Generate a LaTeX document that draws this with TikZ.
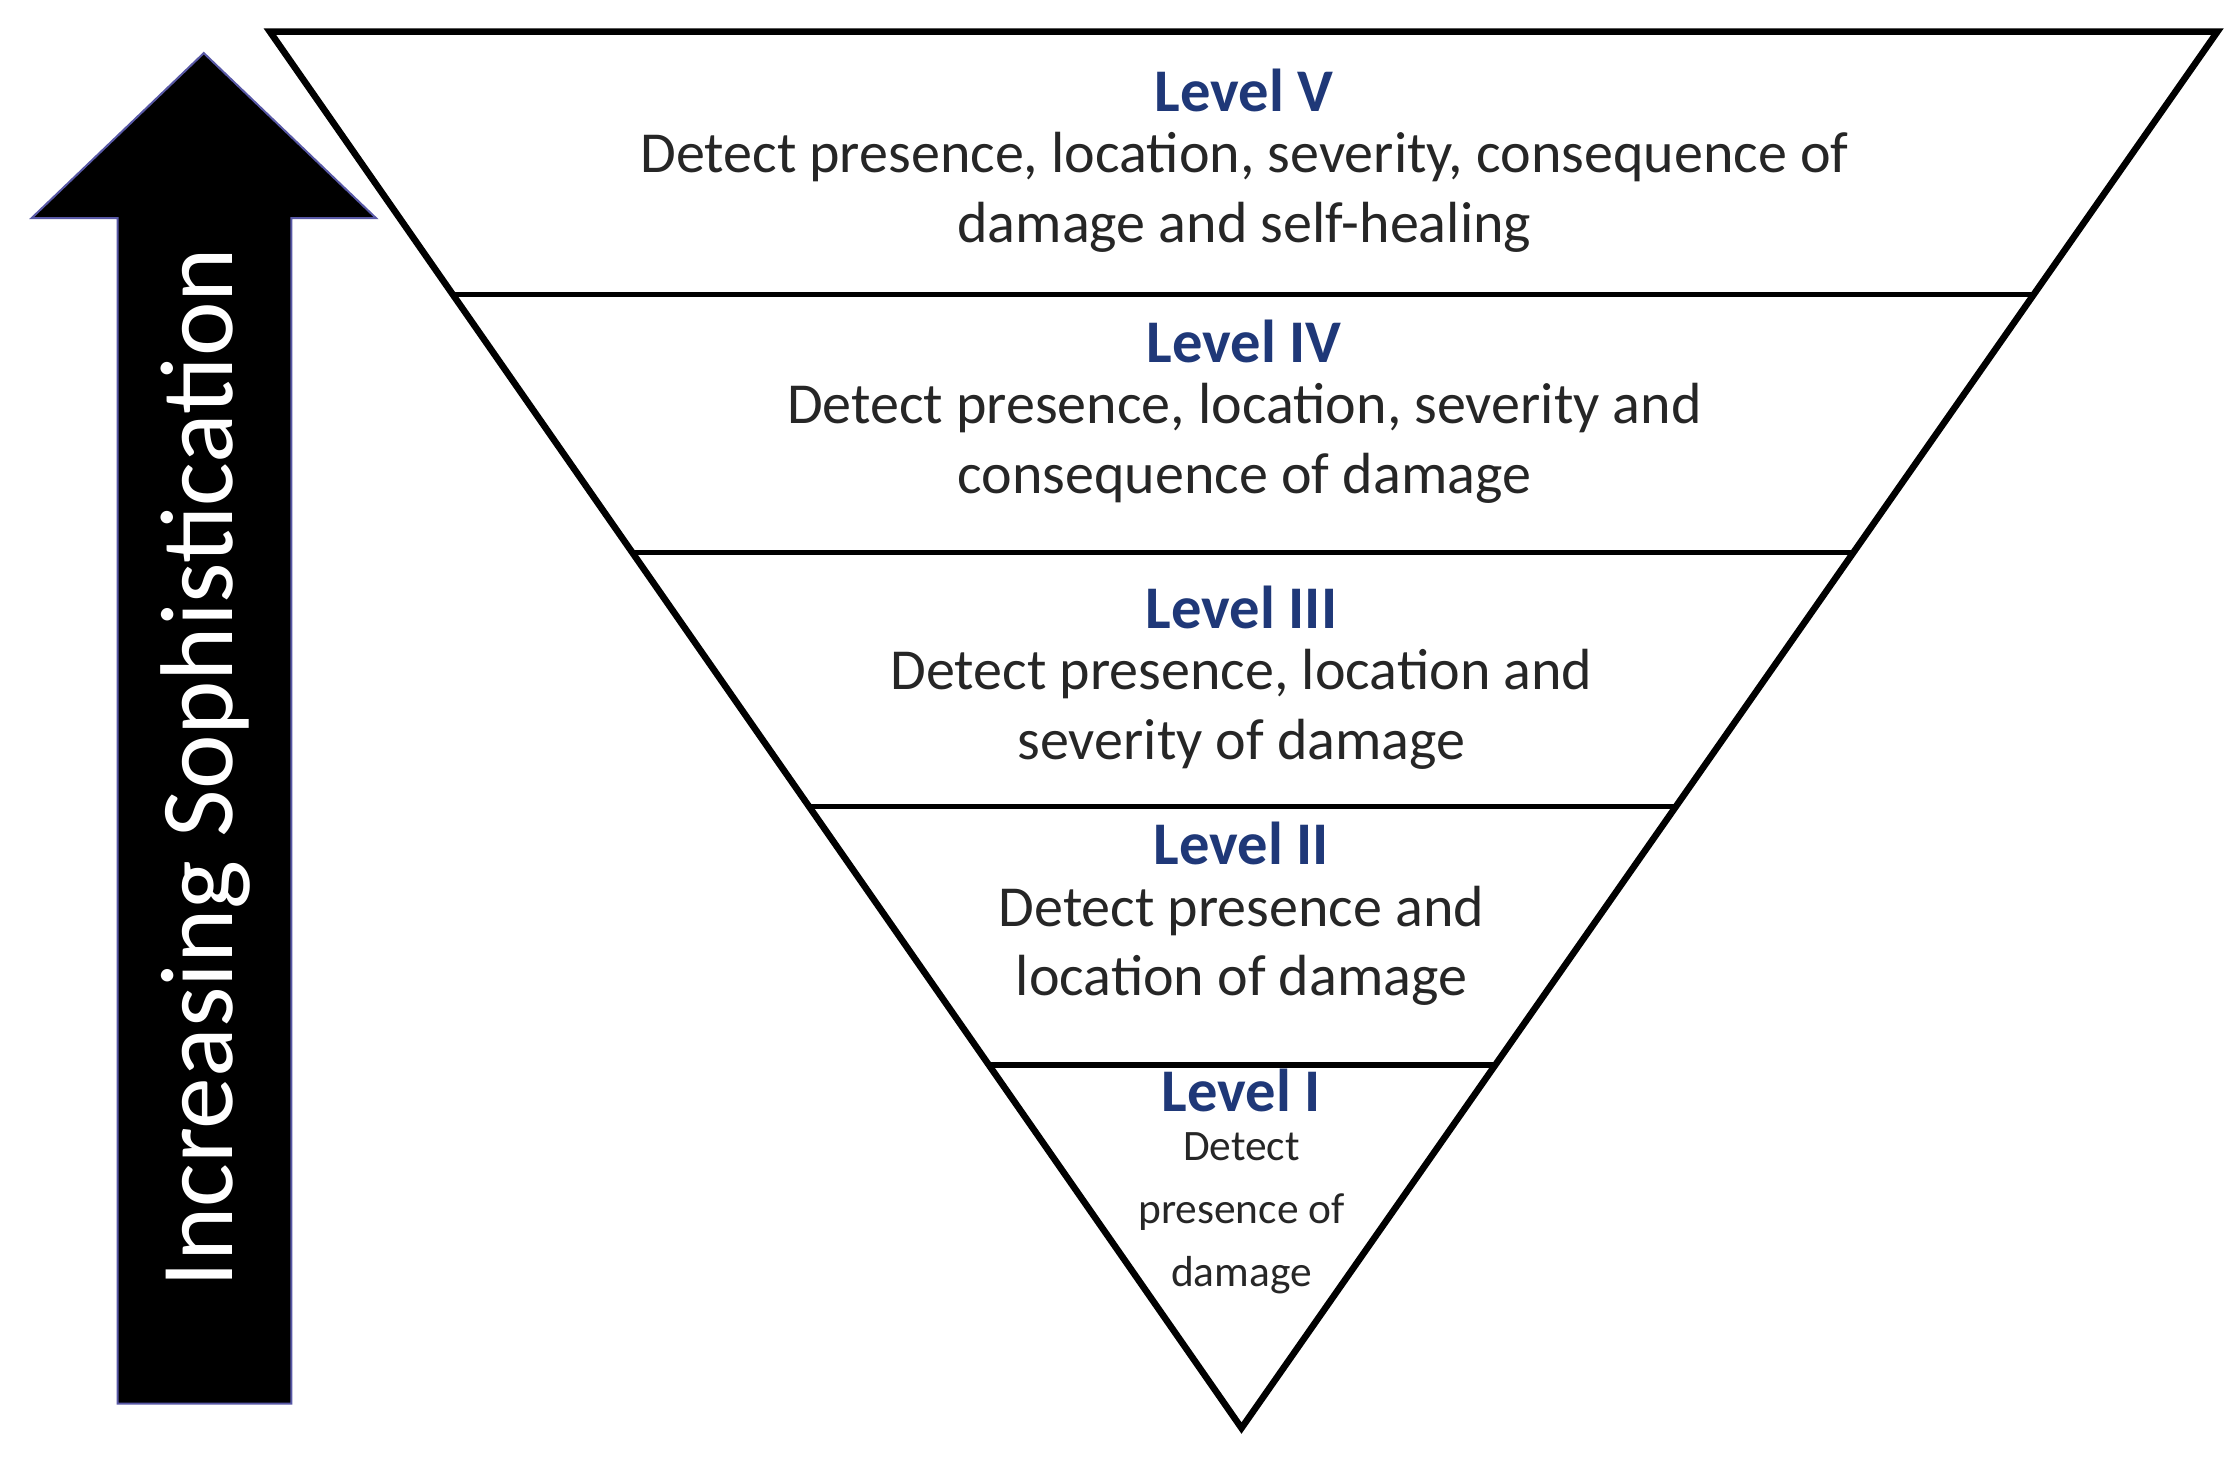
\documentclass[tikz,border=0pt]{standalone}
\usepackage{fontspec}
\setmainfont{Carlito}
\usetikzlibrary{positioning}
\definecolor{lvlblue}{RGB}{31,56,120}
\tikzset{
	lvl/.style={font=\fontsize{12}{13}\selectfont\bfseries, text=lvlblue},
	desc/.style={font=\fontsize{11.5}{13.8}\selectfont, align=center, text=black!85}
}
\begin{document}
\begin{tikzpicture}[x=0.01cm,y=-0.01cm]
	\useasboundingbox (0,0) rectangle (1560,1016);
	% arrow
	\draw [fill=black, draw=blue!30!gray] (82,978) -- (82,152) -- (22,152) -- (142,37) -- (262,152) -- (203,152) -- (203,978) -- cycle;
	\node (arrowtext) [rotate=90, text=white, font=\fontsize{20.5}{22}\selectfont] at (143,535) {Increasing Sophistication};
	% pyramid
	\draw [line width=1.3pt] (188,22) -- (1545,22) -- (865,995) -- cycle;
	\draw [line width=1pt] (315,205) -- (1417,205);
	\draw [line width=1pt] (440,385) -- (1290,385);
	\draw [line width=1pt] (563,562) -- (1167,562);
	\draw [line width=1.3pt] (688,742) -- (1040,742);
	% levels
	\node (l5) [lvl] at (867,63) {Level V};
	\node (d5) [desc, below=-3pt of l5] {Detect presence, location, severity, consequence of\\damage and self-healing};
	\node (l4) [lvl] at (867,238) {Level IV};
	\node (d4) [desc, below=-3pt of l4] {Detect presence, location, severity and\\consequence of damage};
	\node (l3) [lvl] at (865,423) {Level III};
	\node (d3) [desc, below=-3pt of l3] {Detect presence, location and\\severity of damage};
	\node (l2) [lvl] at (865,588) {Level II};
	\node (d2) [desc, below=-3pt of l2] {Detect presence and\\location of damage};
	\node (l1) [lvl] at (865,760) {Level I};
	\node (d1) [desc, font=\fontsize{8.6}{12.5}\selectfont, below=-3pt of l1] {Detect\\presence of\\damage};
\end{tikzpicture}
\end{document}
